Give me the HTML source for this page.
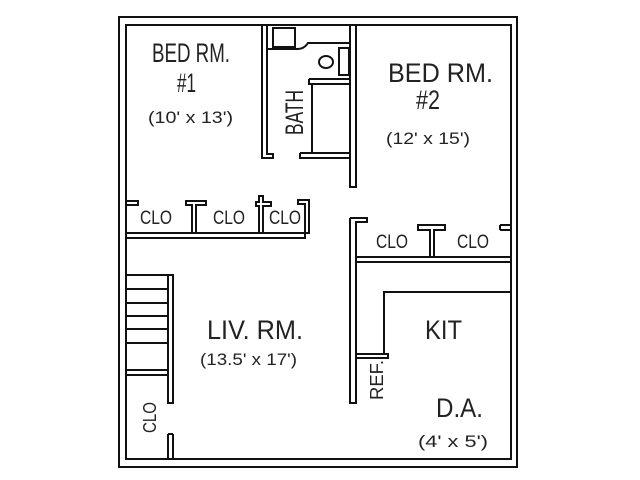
<!DOCTYPE html>
<html><head><meta charset="utf-8"><style>
html,body{margin:0;padding:0;background:#fff;}
svg{display:block;}
text{font-family:"Liberation Sans",sans-serif;fill:#222;}
</style></head><body>
<svg width="640" height="480" viewBox="0 0 640 480" xmlns="http://www.w3.org/2000/svg">
<g fill="none" stroke="#111" stroke-width="2">
<rect x="119" y="17" width="398" height="450"/>
<rect x="126" y="25" width="385" height="434"/>
<path d="M262 25 V158 H273 V154 H267 V25"/>
<path d="M350 25 V187 H356 V25"/>
<path d="M300 153 H350 M300 153 V158 H350"/>
<path d="M309 79 H350 M309 79 V84 H350 M312 84 V153"/>
<rect x="339" y="48" width="10" height="27"/>
<ellipse cx="326" cy="62" rx="7" ry="6"/>
<rect x="273" y="28" width="22" height="19"/>
<path d="M267 49 H298 Q304 49 308 43 H350"/>
<path d="M126 233 H309 V200 H298 V204 H305 V238 H126"/>
<path d="M126 201 H138 V205 H126"/>
<path d="M192 233 V205 H186 V201 H206 V205 H196 V233"/>
<path d="M259 233 V206 H256 V202 H259 V196 H263 V202 H271 V206 H263 V233"/>
<path d="M350 218 V403 H356 V222 H367 V218 H350"/>
<path d="M356 257 H511 M356 262 H511"/>
<path d="M430 257 V230 H418 V225 H445 V230 H434 V257"/>
<path d="M500 225 H511 M500 230 H511 M500 225 V230"/>
<path d="M511 292 H384 V354"/>
<path d="M356 354 H388 V358 H356"/>
<path d="M168 275 V403 H173 V275 Z"/>
<path d="M126 275 H168 M126 289 H168 M126 303 H168 M126 316 H168 M126 329 H168 M126 343 H168 M126 370 H168 M126 375 H168"/>
<path d="M168 434 V459 M173 434 V459 M168 434 H173"/>
</g>
<text x="152" y="62" font-size="27" textLength="78" lengthAdjust="spacingAndGlyphs">BED RM.</text>
<text x="177" y="92" font-size="27" textLength="19" lengthAdjust="spacingAndGlyphs">#1</text>
<text x="148" y="123" font-size="17" textLength="85" lengthAdjust="spacingAndGlyphs">(10' x 13')</text>
<text x="388" y="82" font-size="27" textLength="105" lengthAdjust="spacingAndGlyphs">BED RM.</text>
<text x="416" y="109" font-size="27" textLength="24" lengthAdjust="spacingAndGlyphs">#2</text>
<text x="386" y="144" font-size="17" textLength="84" lengthAdjust="spacingAndGlyphs">(12' x 15')</text>
<text transform="translate(303,135) rotate(-90)" font-size="25" textLength="45" lengthAdjust="spacingAndGlyphs">BATH</text>
<text x="140" y="224" font-size="19" textLength="32" lengthAdjust="spacingAndGlyphs">CLO</text>
<text x="213" y="224" font-size="19" textLength="32" lengthAdjust="spacingAndGlyphs">CLO</text>
<text x="269" y="224" font-size="19" textLength="32" lengthAdjust="spacingAndGlyphs">CLO</text>
<text x="376" y="248" font-size="19" textLength="32" lengthAdjust="spacingAndGlyphs">CLO</text>
<text x="457" y="248" font-size="19" textLength="32" lengthAdjust="spacingAndGlyphs">CLO</text>
<text x="207" y="339" font-size="27" textLength="96" lengthAdjust="spacingAndGlyphs">LIV. RM.</text>
<text x="200" y="365" font-size="17" textLength="97" lengthAdjust="spacingAndGlyphs">(13.5' x 17')</text>
<text x="425" y="339" font-size="27" textLength="37" lengthAdjust="spacingAndGlyphs">KIT</text>
<text transform="translate(383,400) rotate(-90)" font-size="18" textLength="40" lengthAdjust="spacingAndGlyphs">REF.</text>
<text transform="translate(156,433) rotate(-90)" font-size="18" textLength="31" lengthAdjust="spacingAndGlyphs">CLO</text>
<text x="436" y="417" font-size="27" textLength="47" lengthAdjust="spacingAndGlyphs">D.A.</text>
<text x="418" y="447" font-size="17" textLength="70" lengthAdjust="spacingAndGlyphs">(4' x 5')</text>
</svg>
</body></html>
